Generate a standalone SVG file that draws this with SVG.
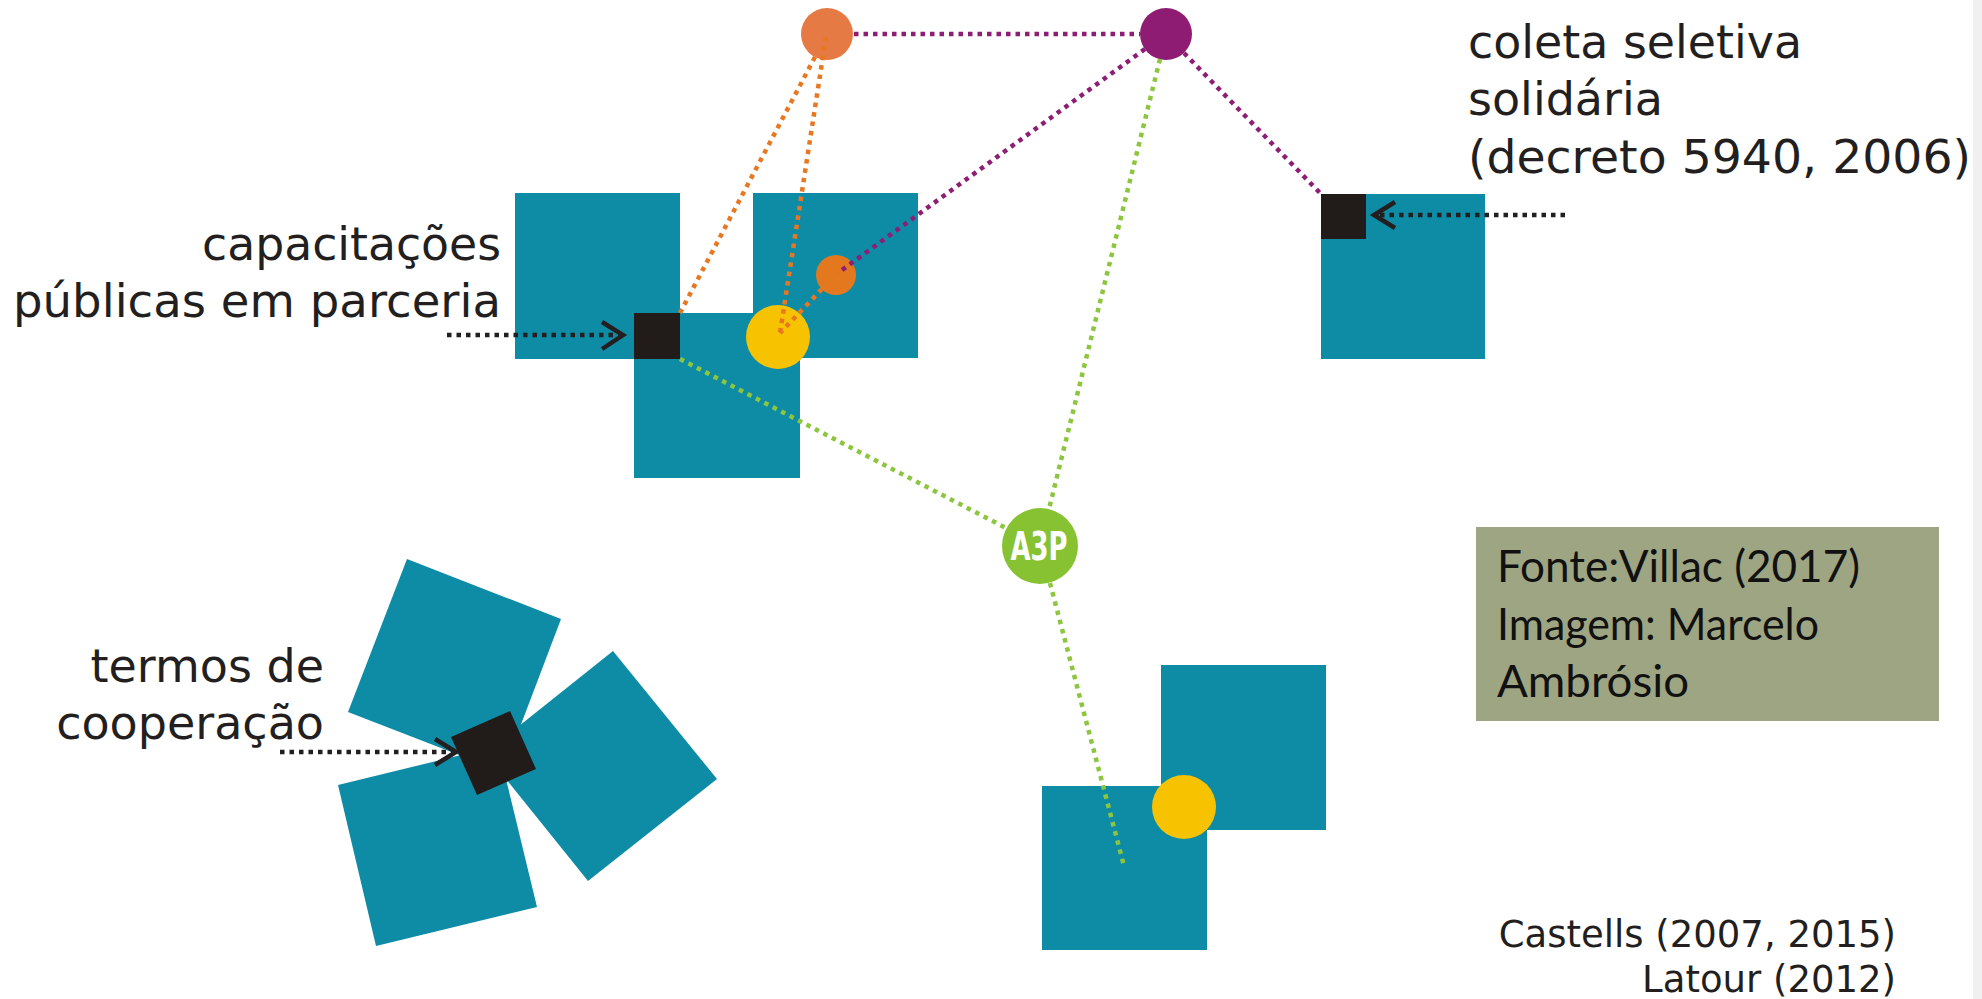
<svg xmlns="http://www.w3.org/2000/svg" width="1982" height="999" viewBox="0 0 1982 999">
<style>
.sq{fill:#0E8CA6}
.blk{fill:#211C1A}
.lbl{font-family:"DejaVu Sans","Liberation Sans",sans-serif;font-size:46px;fill:#231F20}
.ref{font-family:"DejaVu Sans","Liberation Sans",sans-serif;font-size:37px;fill:#231F20}
.src{font-family:Lato,"Open Sans",sans-serif;font-size:44px;fill:#111111}
.dot{fill:none;stroke-width:4.5;stroke-dasharray:4.5 5}
.pur{stroke:#8E1E74}
.org{stroke:#E87722}
.grn{stroke:#8CC63F}
.ak{stroke:#231F20}
.head{fill:none;stroke:#231F20;stroke-width:4.5}
</style>
<rect x="0" y="0" width="1982" height="999" fill="#ffffff"/>
<rect x="1973" y="0" width="9" height="999" fill="#f0f0f0"/>

<g id="cluster-top-left">
<rect class="sq" x="515" y="193" width="165" height="166"/>
<rect class="sq" x="753" y="193" width="165" height="165"/>
<rect class="sq" x="634" y="313" width="166" height="165"/>
<rect class="blk" x="634" y="313" width="46" height="46"/>
</g>
<g id="cluster-top-right">
<rect class="sq" x="1321" y="194" width="164" height="165"/>
<rect class="blk" x="1321" y="194" width="45" height="45"/>
</g>
<g id="cluster-bottom">
<rect class="sq" x="1161" y="665" width="165" height="165"/>
<rect class="sq" x="1042" y="786" width="165" height="164"/>
</g>
<g id="pinwheel">
<polygon class="sq" points="407,559 561,619 503,772 348,712"/>
<polygon class="sq" points="613,651 717,779 588,881 485,753"/>
<polygon class="sq" points="338,785 498,746 537,907 376,946"/>
<polygon class="blk" points="451,737 510,711 536,769 477,795"/>
</g>

<g id="circle-orange-top"><circle cx="827" cy="34" r="26" fill="#E67A45"/></g>
<g id="circle-purple"><circle cx="1166" cy="34" r="26" fill="#8E1C73"/></g>
<g id="circle-yellow-1"><circle cx="778" cy="337" r="32" fill="#F7C200"/></g>
<g id="circle-orange-small"><circle cx="836" cy="275" r="20" fill="#E4781E"/></g>
<g id="circle-yellow-2"><circle cx="1184" cy="807" r="32" fill="#F7C200"/></g>
<g id="a3p">
<circle cx="1040" cy="546" r="38" fill="#86C232"/>
<text x="1039" y="560" text-anchor="middle" textLength="57" lengthAdjust="spacingAndGlyphs" font-family="'DejaVu Sans Condensed','DejaVu Sans',sans-serif" font-weight="bold" font-size="39" fill="#ffffff">A3P</text>
</g>

<g id="connectors">
<line class="dot pur" x1="854" y1="34" x2="1140" y2="34"/>
<line class="dot pur" x1="1145" y1="49" x2="838" y2="273"/>
<line class="dot pur" x1="1184" y1="53" x2="1321" y2="194"/>
<line class="dot org" x1="815" y1="57" x2="680" y2="313"/>
<line class="dot org" x1="826" y1="37" x2="780" y2="333"/>
<line class="dot org" x1="822" y1="289" x2="780" y2="333"/>
<line class="dot grn" x1="1160" y1="59" x2="1049" y2="509"/>
<line class="dot grn" x1="680" y1="359" x2="1006" y2="528"/>
<line class="dot grn" x1="1050" y1="583" x2="1124" y2="866"/>
<line class="dot ak" x1="447" y1="335" x2="620" y2="335"/>
<polyline class="head" points="602,322 623,335 602,349"/>
<line class="dot ak" x1="1565" y1="215" x2="1376" y2="215"/>
<polyline class="head" points="1395,202 1374,215 1395,228"/>
<line class="dot ak" x1="280" y1="752" x2="453" y2="752"/>
<polyline class="head" points="435,739 456,752 435,765"/>
</g>

<g id="label-capacitacoes">
<text class="lbl" x="501" y="260" text-anchor="end" textLength="299" lengthAdjust="spacingAndGlyphs">capacitações</text>
<text class="lbl" x="501" y="317" text-anchor="end" textLength="488" lengthAdjust="spacingAndGlyphs">públicas em parceria</text>
</g>
<g id="label-coleta">
<text class="lbl" x="1468" y="58" textLength="334" lengthAdjust="spacingAndGlyphs">coleta seletiva</text>
<text class="lbl" x="1468" y="115">solidária</text>
<text class="lbl" x="1468" y="173" textLength="503" lengthAdjust="spacingAndGlyphs">(decreto 5940, 2006)</text>
</g>
<g id="label-termos">
<text class="lbl" x="324" y="682" text-anchor="end">termos de</text>
<text class="lbl" x="324" y="739" text-anchor="end">cooperação</text>
</g>
<g id="source-box">
<rect x="1476" y="527" width="463" height="194" fill="#9EA583"/>
<text class="src" x="1497" y="582" textLength="363" lengthAdjust="spacingAndGlyphs">Fonte:Villac (2017)</text>
<text class="src" x="1497" y="640" textLength="322" lengthAdjust="spacingAndGlyphs">Imagem: Marcelo</text>
<text class="src" x="1497" y="697" textLength="192" lengthAdjust="spacingAndGlyphs">Ambrósio</text>
</g>
<g id="references">
<text class="ref" x="1896" y="947" text-anchor="end">Castells (2007, 2015)</text>
<text class="ref" x="1896" y="992" text-anchor="end">Latour (2012)</text>
</g>
</svg>
